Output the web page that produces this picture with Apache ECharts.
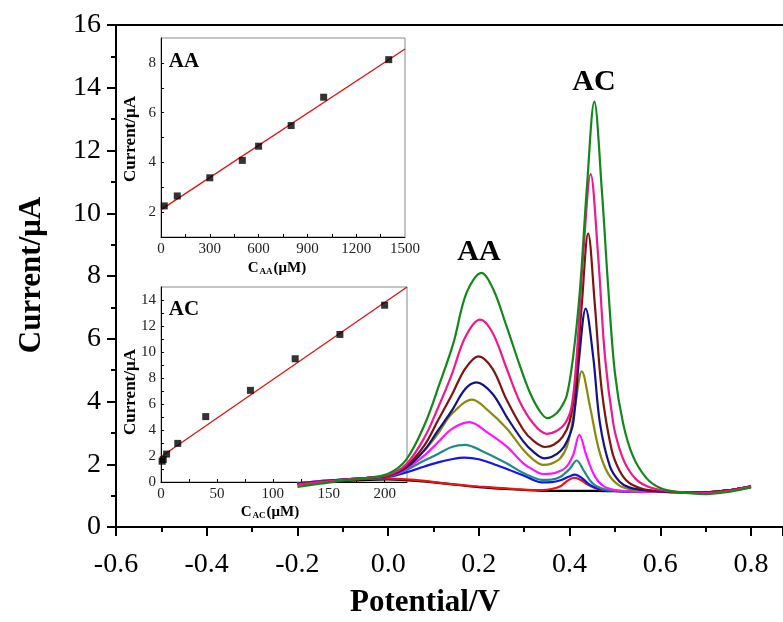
<!DOCTYPE html>
<html>
<head>
<meta charset="utf-8">
<script src="https://cdn.jsdelivr.net/npm/echarts@6/dist/echarts.min.js"></script>
<style>
html,body{margin:0;padding:0;background:#fff;}
#chart{width:783px;height:622px;}
</style>
</head>
<body>
<div id="chart"></div>
<script>
// ---------------- Main DPV curves: [Potential (V), Current (µA)] ----------------
const curveBlack = [[-0.2,1.36],[-0.1,1.47],[0,1.52],[0.1,1.42],[0.2,1.27],[0.3,1.18],[0.35,1.15],[0.4,1.15],[0.45,1.15],[0.5,1.14],[0.6,1.12],[0.7,1.1],[0.8,1.27]];
const curveRed = [[-0.2,1.38],[-0.15,1.44],[-0.1,1.49],[-0.05,1.53],[0,1.54],[0.04,1.52],[0.08,1.47],[0.12,1.4],[0.16,1.34],[0.2,1.29],[0.24,1.25],[0.28,1.21],[0.32,1.18],[0.34,1.18],[0.36,1.21],[0.38,1.3],[0.395,1.47],[0.41,1.57],[0.425,1.5],[0.44,1.35],[0.46,1.22],[0.48,1.17],[0.52,1.14],[0.6,1.12],[0.65,1.11],[0.7,1.11],[0.75,1.17],[0.8,1.28]];
const curveBlue = [[-0.2,1.39],[-0.15,1.46],[-0.1,1.51],[-0.05,1.56],[0,1.6],[0.04,1.74],[0.08,1.93],[0.11,2.06],[0.14,2.16],[0.168,2.21],[0.2,2.16],[0.24,1.97],[0.276,1.77],[0.3,1.63],[0.32,1.5],[0.3385,1.42],[0.36,1.43],[0.38,1.49],[0.398,1.6],[0.412,1.67],[0.428,1.55],[0.445,1.34],[0.465,1.21],[0.49,1.16],[0.53,1.13],[0.6,1.12],[0.65,1.11],[0.7,1.11],[0.75,1.17],[0.8,1.3]];
const curveTeal = [[-0.2,1.39],[-0.15,1.46],[-0.1,1.51],[-0.05,1.56],[0,1.61],[0.04,1.82],[0.08,2.12],[0.11,2.33],[0.14,2.55],[0.1694,2.62],[0.21,2.4],[0.261,2.03],[0.298,1.72],[0.32,1.58],[0.3385,1.5],[0.36,1.51],[0.38,1.6],[0.4,1.85],[0.4157,2.12],[0.432,1.78],[0.45,1.4],[0.47,1.23],[0.5,1.16],[0.55,1.13],[0.6,1.12],[0.65,1.11],[0.7,1.1],[0.75,1.17],[0.8,1.3]];
const curveMagenta = [[-0.2,1.39],[-0.15,1.46],[-0.1,1.51],[-0.05,1.56],[0,1.62],[0.04,1.86],[0.08,2.28],[0.11,2.7],[0.14,3.12],[0.179,3.34],[0.22,3.0],[0.261,2.57],[0.298,2.03],[0.32,1.82],[0.3407,1.69],[0.36,1.7],[0.375,1.76],[0.392,1.9],[0.408,2.3],[0.4215,2.94],[0.4377,2.25],[0.456,1.61],[0.475,1.3],[0.5,1.18],[0.55,1.13],[0.6,1.12],[0.65,1.11],[0.7,1.1],[0.75,1.17],[0.8,1.3]];
const curveOlive = [[-0.2,1.38],[-0.15,1.45],[-0.1,1.51],[-0.05,1.56],[0,1.63],[0.04,1.91],[0.08,2.44],[0.11,2.98],[0.14,3.6],[0.1855,4.06],[0.22,3.72],[0.261,3.15],[0.298,2.46],[0.32,2.15],[0.342,1.98],[0.36,2.02],[0.38,2.2],[0.396,2.65],[0.412,3.84],[0.427,4.96],[0.445,3.84],[0.465,2.45],[0.485,1.7],[0.51,1.32],[0.54,1.19],[0.58,1.14],[0.63,1.12],[0.7,1.1],[0.75,1.17],[0.8,1.3]];
const curveNavy = [[-0.2,1.38],[-0.15,1.45],[-0.1,1.51],[-0.05,1.56],[0,1.63],[0.04,1.89],[0.08,2.45],[0.11,3.08],[0.14,3.7],[0.17,4.4],[0.195,4.61],[0.23,4.25],[0.261,3.52],[0.298,2.73],[0.32,2.4],[0.3436,2.19],[0.36,2.23],[0.38,2.42],[0.395,2.75],[0.408,3.31],[0.4215,5.44],[0.4355,6.96],[0.452,5.44],[0.467,3.31],[0.489,1.93],[0.51,1.45],[0.53,1.27],[0.56,1.18],[0.6,1.13],[0.65,1.11],[0.7,1.11],[0.75,1.17],[0.8,1.3]];
const curveMaroon = [[-0.2,1.37],[-0.15,1.44],[-0.1,1.5],[-0.05,1.56],[0,1.64],[0.04,1.94],[0.08,2.6],[0.11,3.4],[0.14,4.2],[0.17,5.05],[0.199,5.44],[0.23,5.05],[0.261,4.06],[0.298,3.1],[0.32,2.75],[0.3458,2.55],[0.365,2.62],[0.385,2.88],[0.4,3.35],[0.412,4.38],[0.4267,7.04],[0.441,9.36],[0.456,7.04],[0.4708,4.38],[0.4928,2.46],[0.51,1.8],[0.53,1.42],[0.56,1.22],[0.6,1.14],[0.65,1.11],[0.7,1.11],[0.75,1.17],[0.8,1.29]];
const curvePink = [[-0.2,1.35],[-0.15,1.43],[-0.1,1.5],[-0.05,1.56],[0,1.66],[0.04,2.0],[0.08,2.85],[0.11,3.8],[0.14,4.85],[0.17,6.05],[0.2025,6.61],[0.23,6.2],[0.26,5.1],[0.29,4.0],[0.32,3.3],[0.3495,2.97],[0.37,3.05],[0.39,3.3],[0.4046,3.84],[0.4157,5.44],[0.43,8.64],[0.4465,11.25],[0.463,8.64],[0.478,5.44],[0.4963,3.31],[0.51,2.5],[0.526,1.93],[0.55,1.48],[0.58,1.25],[0.62,1.14],[0.66,1.1],[0.7,1.08],[0.75,1.15],[0.8,1.28]];
const curveGreen = [[-0.2,1.28],[-0.15,1.38],[-0.1,1.48],[-0.05,1.56],[0,1.7],[0.04,2.15],[0.08,3.25],[0.114,4.59],[0.144,5.87],[0.173,7.47],[0.206,8.1],[0.232,7.57],[0.261,6.4],[0.291,5.12],[0.313,4.27],[0.335,3.68],[0.351,3.47],[0.365,3.55],[0.379,3.76],[0.394,4.2],[0.408,5.44],[0.423,7.57],[0.438,10.77],[0.4546,13.56],[0.471,10.77],[0.4855,7.57],[0.5,4.91],[0.518,3.31],[0.54,2.25],[0.57,1.55],[0.6,1.24],[0.635,1.12],[0.67,1.07],[0.7,1.05],[0.75,1.12],[0.8,1.26]];

// ---------------- Inset AA calibration ----------------
const aaConc = [20, 100, 300, 500, 600, 800, 1000, 1400];
const aaCurrent = [2.25, 2.65, 3.38, 4.08, 4.65, 5.48, 6.62, 8.13];
const aaFitConc = [0, 1500];
const aaFitCurrent = [2.1, 8.56];
const aaXLabels = [0, 300, 600, 900, 1200, 1500];
const aaYLabels = [2, 4, 6, 8];

// ---------------- Inset AC calibration ----------------
const acConc = [1, 2, 5, 15, 40, 80, 120, 160, 200];
const acCurrent = [1.6, 1.72, 2.15, 2.97, 5.03, 7.05, 9.48, 11.35, 13.6];
const acFitConc = [0, 220];
const acFitCurrent = [1.94, 15.0];
const acXLabels = [0, 50, 100, 150, 200];
const acYLabels = [0, 2, 4, 6, 8, 10, 12, 14];

const SERIF = '"Liberation Serif", "Times New Roman", serif';
const mainCurves = [
  ['black', curveBlack, '#000000'],
  ['red', curveRed, '#f01010'],
  ['blue', curveBlue, '#1414f0'],
  ['teal', curveTeal, '#1f8a8a'],
  ['magenta', curveMagenta, '#ff14ff'],
  ['olive', curveOlive, '#8a8a10'],
  ['navy', curveNavy, '#12128a'],
  ['maroon', curveMaroon, '#801212'],
  ['pink', curvePink, '#f0188a'],
  ['green', curveGreen, '#12881a']
];

const zip = (a, b) => a.map((v, i) => [v, b[i]]);
const range = (a, b, s) => { const r = []; for (let v = a; v <= b + 1e-9; v += s) r.push(Math.round(v * 1000) / 1000); return r; };

const chart = echarts.init(document.getElementById('chart'), null, {renderer: 'canvas'});

const MAIN_XMAX = 0.8706;
const insetLabel = {fontFamily: SERIF, fontSize: 15, color: '#222', margin: 5, formatter: v => String(v)};
const insetAxis = (gridIndex, min, max, ticks, labels) => ({
  type: 'value', gridIndex: gridIndex, min: min, max: max,
  axisLine: {show: true, onZero: false, lineStyle: {color: '#000', width: 1}},
  axisTick: {show: true, inside: true, length: 3, customValues: ticks, lineStyle: {color: '#000'}},
  splitLine: {show: false},
  axisLabel: Object.assign({}, insetLabel, {customValues: labels})
});

const option = {
  animation: false,
  backgroundColor: '#fff',
  grid: [
    {left: 116, top: 25, width: 667, height: 502, show: false},
    {left: 161, top: 38, width: 244, height: 199, show: true, borderColor: '#888', borderWidth: 1, backgroundColor: 'transparent'},
    {left: 161, top: 287, width: 246, height: 195, show: true, borderColor: '#888', borderWidth: 1, backgroundColor: 'transparent'}
  ],
  xAxis: [
    {
      gridIndex: 0, type: 'value', min: -0.6, max: MAIN_XMAX, interval: 0.2,
      axisLine: {show: true, onZero: false, lineStyle: {color: '#000', width: 2}},
      axisTick: {show: true, inside: false, length: 9, lineStyle: {width: 2, color: '#000'}},
      minorTick: {show: true, splitNumber: 2, length: 5, lineStyle: {width: 2, color: '#000'}},
      splitLine: {show: false},
      axisLabel: {fontFamily: SERIF, fontSize: 28, color: '#000', margin: 24, showMaxLabel: false,
        formatter: v => v.toFixed(1)}
    },
    insetAxis(1, 0, 1500, range(150, 1350, 150), aaXLabels),
    insetAxis(2, 0, 220, range(25, 200, 25), acXLabels),
    {
      gridIndex: 0, type: 'value', position: 'top', min: -0.6, max: MAIN_XMAX,
      axisLine: {show: true, onZero: false, lineStyle: {color: '#000', width: 2}},
      axisTick: {show: false}, axisLabel: {show: false}, splitLine: {show: false}
    }
  ],
  yAxis: [
    {
      gridIndex: 0, type: 'value', min: 0, max: 16, interval: 2,
      axisLine: {show: true, onZero: false, lineStyle: {color: '#000', width: 2}},
      axisTick: {show: true, inside: false, length: 9, lineStyle: {width: 2, color: '#000'}},
      minorTick: {show: true, splitNumber: 2, length: 5, lineStyle: {width: 2, color: '#000'}},
      splitLine: {show: false},
      axisLabel: {fontFamily: SERIF, fontSize: 28, color: '#000', margin: 15}
    },
    insetAxis(1, 1, 9, range(2, 8, 1), aaYLabels),
    insetAxis(2, 0, 15, range(1, 14, 1), acYLabels)
  ],
  series: [
    {type: 'line', xAxisIndex: 1, yAxisIndex: 1, data: zip(aaFitConc, aaFitCurrent), showSymbol: false, lineStyle: {color: '#e01010', width: 1.3}, z: 2, silent: true},
    {type: 'scatter', xAxisIndex: 1, yAxisIndex: 1, data: zip(aaConc, aaCurrent), symbol: 'rect', symbolSize: 7, itemStyle: {color: '#000'}, z: 3},
    {type: 'line', xAxisIndex: 2, yAxisIndex: 2, data: zip(acFitConc, acFitCurrent), showSymbol: false, lineStyle: {color: '#e01010', width: 1.3}, z: 2, silent: true},
    {type: 'scatter', xAxisIndex: 2, yAxisIndex: 2, data: zip(acConc, acCurrent), symbol: 'rect', symbolSize: 7, itemStyle: {color: '#000'}, z: 3}
  ].concat(mainCurves.map(([name, data, color]) => ({
    name: name, type: 'line', xAxisIndex: 0, yAxisIndex: 0, data: data,
    showSymbol: false, smooth: 0.35, lineStyle: {color: color, width: 2.2}, z: 4, silent: true
  }))),
  graphic: [
    {type: 'text', x: 32, y: 275, rotation: Math.PI / 2, style: {text: 'Current/μA', font: 'bold 31px ' + SERIF, fill: '#000', align: 'center', verticalAlign: 'middle'}},
    {type: 'text', x: 425, y: 603, style: {text: 'Potential/V', font: 'bold 31px ' + SERIF, fill: '#000', align: 'center', verticalAlign: 'middle'}},
    {type: 'text', x: 479, y: 252, style: {text: 'AA', font: 'bold 30px ' + SERIF, fill: '#000', align: 'center', verticalAlign: 'middle'}},
    {type: 'text', x: 594, y: 82, style: {text: 'AC', font: 'bold 30px ' + SERIF, fill: '#000', align: 'center', verticalAlign: 'middle'}},
    {type: 'text', x: 184, y: 62, style: {text: 'AA', font: 'bold 21px ' + SERIF, fill: '#000', align: 'center', verticalAlign: 'middle'}},
    {type: 'text', x: 184, y: 310, style: {text: 'AC', font: 'bold 21px ' + SERIF, fill: '#000', align: 'center', verticalAlign: 'middle'}},
    {type: 'text', x: 131, y: 139, rotation: Math.PI / 2, style: {text: 'Current/μA', font: 'bold 17px ' + SERIF, fill: '#000', align: 'center', verticalAlign: 'middle'}},
    {type: 'text', x: 131, y: 392, rotation: Math.PI / 2, style: {text: 'Current/μA', font: 'bold 17px ' + SERIF, fill: '#000', align: 'center', verticalAlign: 'middle'}},
    {type: 'text', x: 277, y: 268, style: {text: '{b|C}{s|AA}{b|(μM)}', align: 'center', verticalAlign: 'middle',
      rich: {b: {font: 'bold 15px ' + SERIF, fill: '#000'}, s: {font: 'bold 9px ' + SERIF, fill: '#000', padding: [8, 1, 0, 1]}}}},
    {type: 'text', x: 270, y: 512, style: {text: '{b|C}{s|AC}{b|(μM)}', align: 'center', verticalAlign: 'middle',
      rich: {b: {font: 'bold 15px ' + SERIF, fill: '#000'}, s: {font: 'bold 9px ' + SERIF, fill: '#000', padding: [8, 1, 0, 1]}}}}
  ]
};
chart.setOption(option);
</script>
</body>
</html>
